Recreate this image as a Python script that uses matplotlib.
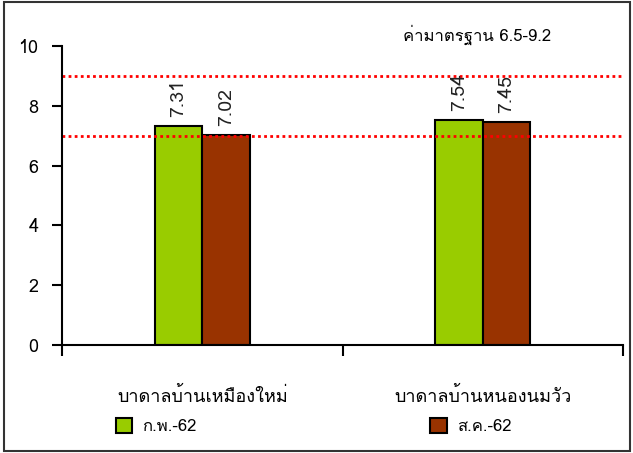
import matplotlib
matplotlib.use('Agg')
import matplotlib.pyplot as plt
from matplotlib import font_manager
from matplotlib.ft2font import FT2Font
from matplotlib.patches import Rectangle
import numpy as np

sites = ['บาดาลบ้านเหมืองใหม่', 'บาดาลบ้านหนองนมวัว']
periods = ['ก.พ.-62', 'ส.ค.-62']
feb_values = [7.31, 7.54]
aug_values = [7.02, 7.45]
standard_lines = [9, 7]
standard_text = 'ค่ามาตรฐาน 6.5-9.2'
yticks = [0, 2, 4, 6, 8, 10]


def find_thai_font():
    """Return the name of an installed family that has Thai glyphs."""
    for f in font_manager.fontManager.ttflist:
        try:
            if 0x0E01 in FT2Font(f.fname).get_charmap():
                return f.name
        except Exception:
            continue
    return None


thai = find_thai_font()
families = [thai, 'DejaVu Sans'] if thai else ['DejaVu Sans']
plt.rcParams['font.family'] = families

fig = plt.figure(figsize=(6.33, 4.53), dpi=100)
ax = fig.add_axes([62 / 633, 108 / 453, 561 / 633, 299 / 453])

x = np.arange(len(sites))
w = 0.17
b1 = ax.bar(x - w / 2, feb_values, w, color='#99cc00', edgecolor='black', linewidth=1.5, label=periods[0])
b2 = ax.bar(x + w / 2, aug_values, w, color='#993300', edgecolor='black', linewidth=1.5, label=periods[1])

# value labels, rotated like the original
for bars, vals in [(b1, feb_values), (b2, aug_values)]:
    for r, v in zip(bars, vals):
        ax.text(r.get_x() + r.get_width() / 2, v + 0.3, f'{v:.2f}', rotation=90,
                ha='center', va='bottom', fontsize=14, color='#222222')

for y in standard_lines:
    ax.axhline(y, color='red', linestyle=(0, (1, 1.2)), linewidth=2)

ax.set_xlim(-0.5, 1.5)
ax.set_ylim(0, 10)
ax.set_yticks(yticks)
ax.tick_params(axis='y', length=7, width=1.5, labelsize=13, pad=10, colors='black')
ax.set_xticks([-0.5, 0.5, 1.5])
ax.set_xticklabels([])
ax.tick_params(axis='x', length=8, width=1.5)
ax.set_xticks(x, minor=True)
ax.set_xticklabels(sites, minor=True, fontsize=13)
ax.tick_params(axis='x', which='minor', length=0, pad=30)
for s in ['top', 'right']:
    ax.spines[s].set_visible(False)
for s in ['left', 'bottom']:
    ax.spines[s].set_linewidth(1.5)

ax.text(0.74, 1.037, standard_text, transform=ax.transAxes, ha='center', va='center', fontsize=12)

fig.legend(handles=[b1, b2], loc='center', bbox_to_anchor=(0.495, 0.058), ncol=2,
           frameon=False, fontsize=12, handlelength=1.0, handleheight=1.0,
           columnspacing=14, handletextpad=0.6)

fig.patches.append(Rectangle((4 / 633, 2 / 453), 626 / 633, 449 / 453, transform=fig.transFigure,
                             fill=False, edgecolor='#333333', linewidth=1.5))

fig.savefig('out.png', dpi=100, facecolor='white')
